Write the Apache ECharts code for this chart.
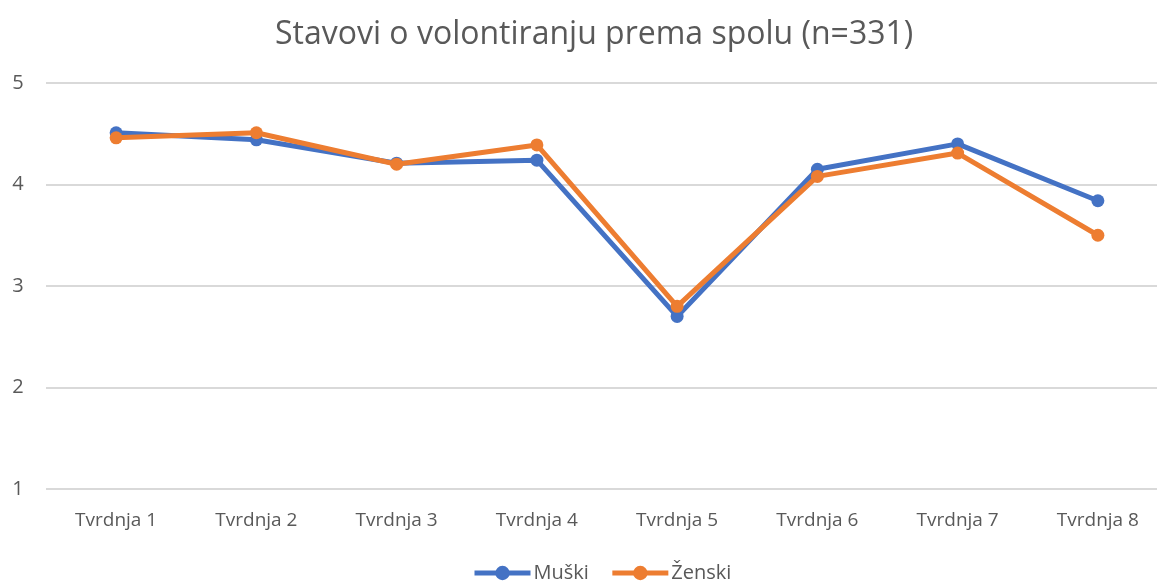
<!DOCTYPE html>
<html><head><meta charset="utf-8">
<script src="https://cdn.jsdelivr.net/npm/echarts@6/dist/echarts.min.js"></script>
<style>html,body{margin:0;padding:0;background:#fff}#c{width:1157px;height:581px}</style>
</head><body><div id="c"></div>
<script>
const categories = ["Tvrdnja 1","Tvrdnja 2","Tvrdnja 3","Tvrdnja 4","Tvrdnja 5","Tvrdnja 6","Tvrdnja 7","Tvrdnja 8"];
const muski = [4.51, 4.44, 4.21, 4.24, 2.70, 4.15, 4.40, 3.84];
const zenski = [4.46, 4.51, 4.20, 4.39, 2.80, 4.08, 4.31, 3.50];
const seriesNames = ["Muški", "Ženski"];
const font = "'Open Sans', 'Noto Sans', sans-serif";
const chart = echarts.init(document.getElementById('c'), null, {renderer:'canvas'});
function s(name, data, color){
  return {name, type:'line', data, symbol:'circle', symbolSize:13,
    lineStyle:{width:5,color}, itemStyle:{color}, z: name===seriesNames[1]?3:2};
}
chart.setOption({
  animation:false,
  title:{text:'Stavovi o volontiranju prema spolu (n=331)', left:270, top:14,
    textStyle:{fontFamily:font, fontSize:32, fontWeight:'normal', color:'#595959'}},
  legend:{bottom:-7, left:467, itemWidth:56, itemHeight:18, itemGap:21,
    lineStyle:{width:5},
    textStyle:{fontFamily:font, fontSize:20, color:'#595959', padding:[0,0,0,-2]}, data:seriesNames},
  grid:{left:46, top:83, width:1122, height:406, containLabel:false, outerBoundsMode:'none'},
  xAxis:{type:'category', data:categories, boundaryGap:true,
    axisLine:{show:false}, axisTick:{show:false},
    axisLabel:{fontFamily:font, fontSize:19, color:'#595959', margin:22}},
  yAxis:{type:'value', min:1, max:5, interval:1,
    axisLine:{show:false}, axisTick:{show:false},
    splitLine:{lineStyle:{color:'#d9d9d9', width:2}},
    axisLabel:{fontFamily:font, fontSize:20, color:'#595959', margin:28, align:'center'}},
  series:[s(seriesNames[0], muski, '#4472C4'), s(seriesNames[1], zenski, '#ED7D31')]
});
</script></body></html>
